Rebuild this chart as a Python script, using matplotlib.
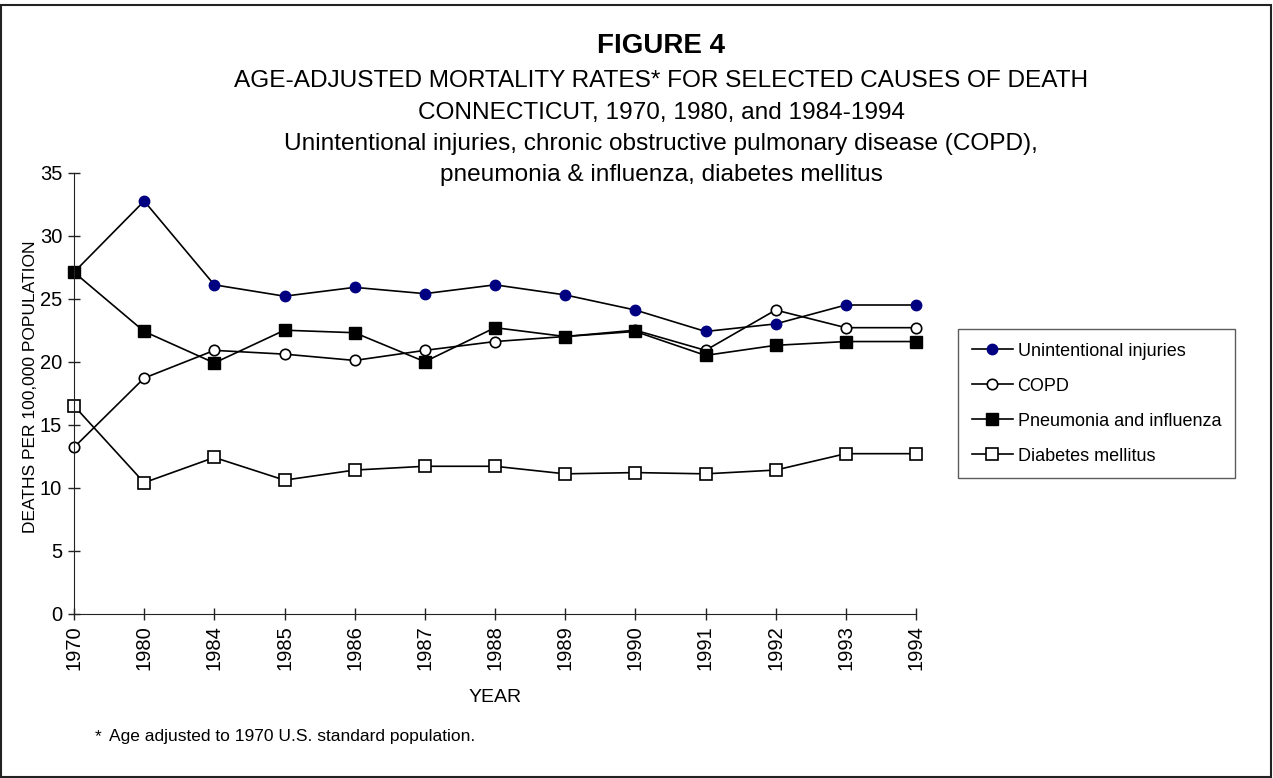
import numpy as np
import matplotlib
matplotlib.use('Agg')
import matplotlib.pyplot as plt
from matplotlib.patches import Rectangle

plt.rcParams['font.family'] = ['Liberation Sans', 'DejaVu Sans']

years = ['1970', '1980', '1984', '1985', '1986', '1987', '1988',
         '1989', '1990', '1991', '1992', '1993', '1994']

injuries = [27.1, 32.75, 26.1, 25.2, 25.9, 25.4, 26.1, 25.3, 24.1, 22.4, 23.0, 24.5, 24.5]
copd = [13.2, 18.7, 20.9, 20.6, 20.1, 20.9, 21.6, 22.0, 22.5, 20.9, 24.1, 22.7, 22.7]
pneumonia = [27.1, 22.4, 19.9, 22.5, 22.3, 20.0, 22.7, 22.0, 22.4, 20.5, 21.3, 21.6, 21.6]
diabetes = [16.5, 10.4, 12.4, 10.6, 11.4, 11.7, 11.7, 11.1, 11.2, 11.1, 11.4, 12.7, 12.7]

W, H = 1273, 778
fig = plt.figure(figsize=(W / 100, H / 100), dpi=100)
fig.patch.set_facecolor('white')

# outer frame round the whole figure
fig.patches.append(Rectangle((0.5 / W, 1.5 / H), (W - 3) / W, (H - 6) / H,
                             transform=fig.transFigure, fill=False,
                             edgecolor='#222222', linewidth=1.5))

ax = fig.add_axes([74 / W, 1 - 613.7 / H, (916 - 74) / W, (613.7 - 172.7) / H])
x = np.arange(len(years))

lw = 1.2
ax.plot(x, injuries, color='black', lw=lw, marker='o', ms=7.5,
        mfc='#000080', mec='#000080', label='Unintentional injuries')
ax.plot(x, copd, color='black', lw=lw, marker='o', ms=7.5,
        mfc='white', mec='black', mew=1.2, label='COPD')
ax.plot(x, pneumonia, color='black', lw=lw, marker='s', ms=8,
        mfc='black', mec='black', label='Pneumonia and influenza')
ax.plot(x, diabetes, color='black', lw=lw, marker='s', ms=8,
        mfc='white', mec='black', mew=1.2, label='Diabetes mellitus')

ax.set_xlim(0, len(years) - 1)
ax.set_ylim(0, 35)
ax.set_yticks(np.arange(0, 36, 5))
ax.set_xticks(x)
ax.set_xticklabels(years, rotation=90)
for s in ['top', 'right']:
    ax.spines[s].set_visible(False)
for s in ['left', 'bottom']:
    ax.spines[s].set_color('#222222')
ax.tick_params(axis='both', direction='inout', length=9, width=1,
               color='#222222', labelsize=14.5)
ax.tick_params(axis='y', pad=4)
ax.tick_params(axis='x', pad=4)
ax.patch.set_alpha(0)
for ln in ax.lines:
    ln.set_clip_on(False)

fig.text(31 / W, 1 - 387 / H, 'DEATHS PER 100,000 POPULATION', rotation=90,
         ha='center', va='center', fontsize=12.5)
fig.text(495 / W, 1 - 698 / H, 'YEAR', ha='center', va='center', fontsize=14)

tx = 661 / W
fig.text(tx, 1 - 46 / H, 'FIGURE 4', ha='center', va='center',
         fontsize=20, fontweight='bold')
sub = ['AGE-ADJUSTED MORTALITY RATES* FOR SELECTED CAUSES OF DEATH',
       'CONNECTICUT, 1970, 1980, and 1984-1994',
       'Unintentional injuries, chronic obstructive pulmonary disease (COPD),',
       'pneumonia & influenza, diabetes mellitus']
for i, t in enumerate(sub):
    fig.text(tx, 1 - (81 + i * 31.5) / H, t, ha='center', va='center', fontsize=17.6)

fig.text(95 / W, 1 - 737 / H, '*', ha='left', va='center', fontsize=12.5)
fig.text(109 / W, 1 - 737 / H, 'Age adjusted to 1970 U.S. standard population.',
         ha='left', va='center', fontsize=12.5)

leg = fig.legend(loc='upper left', bbox_to_anchor=(958 / W, 1 - 329 / H),
                 fontsize=13, frameon=True, fancybox=False, borderaxespad=0,
                 handlelength=2.3, handletextpad=0.25, labelspacing=1.0,
                 borderpad=0.75)
leg.get_frame().set_edgecolor('#333333')
leg.get_frame().set_linewidth(1)

fig.savefig('out.png', dpi=100)
